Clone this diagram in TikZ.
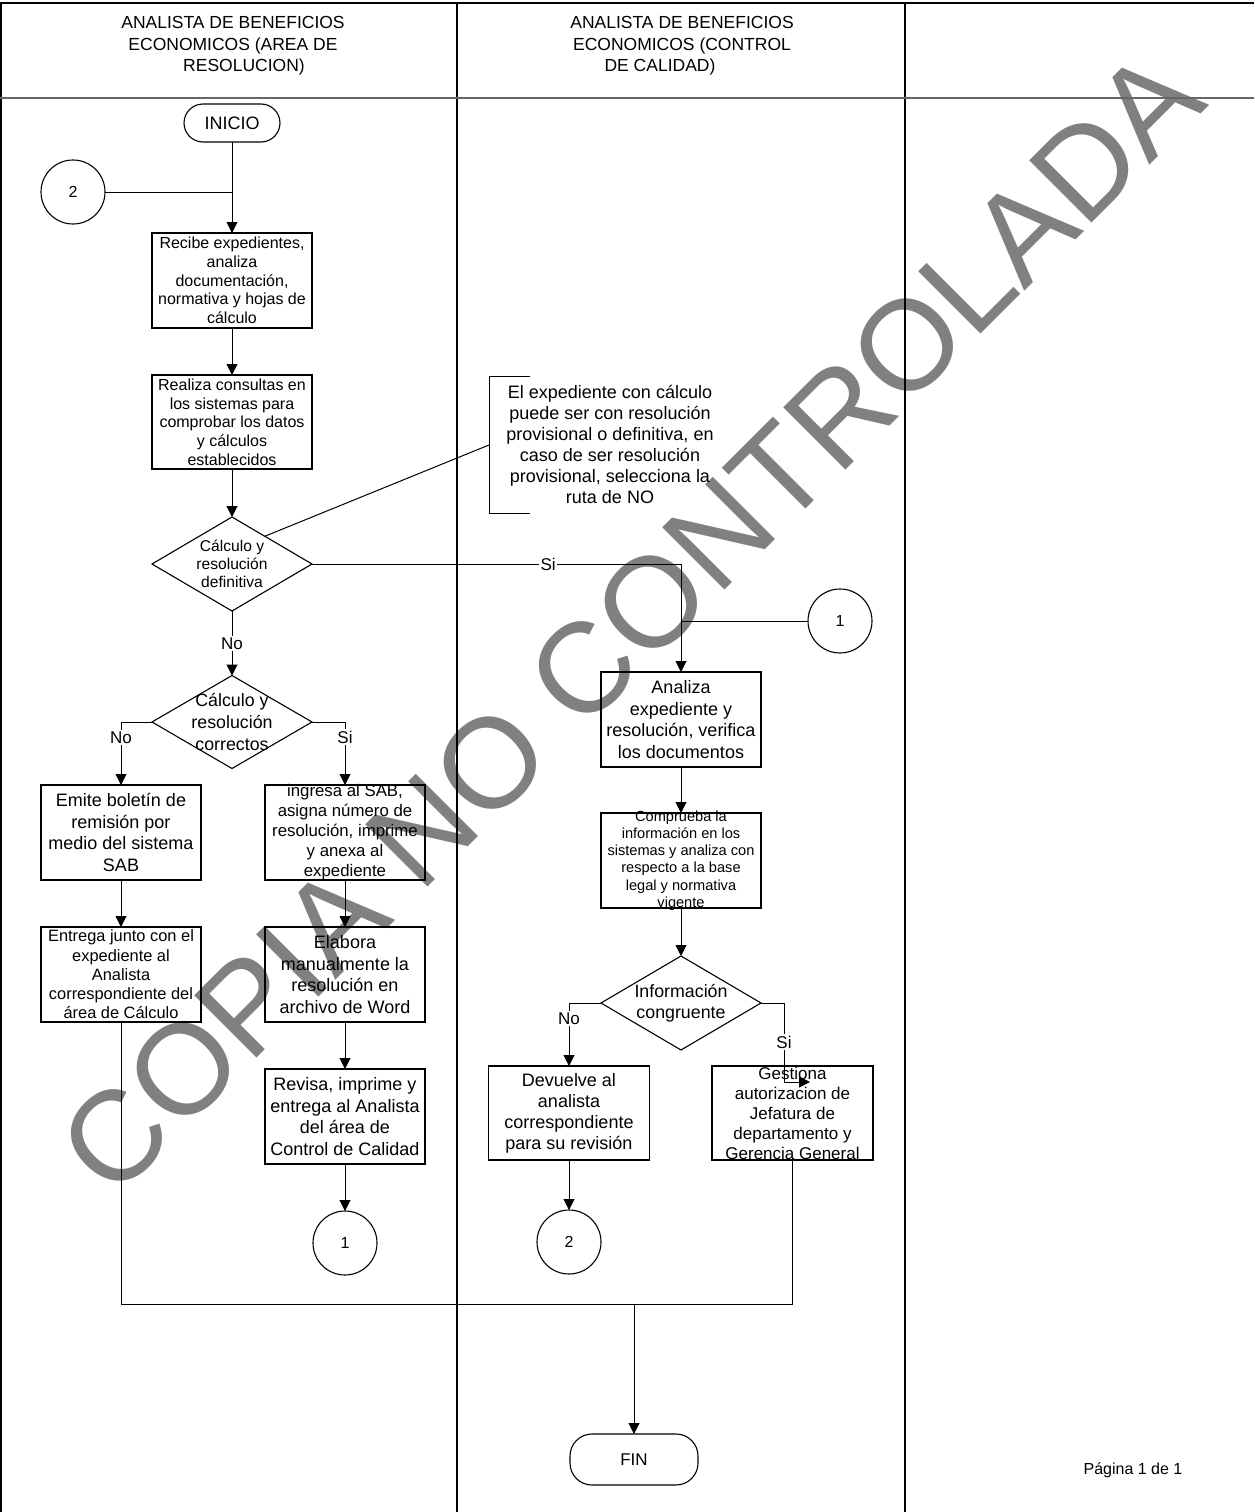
\documentclass[tikz,border=0pt]{standalone}
\usepackage{fontspec}
\setmainfont{Liberation Sans}
\usetikzlibrary{shapes.geometric,arrows.meta,calc}
\newcommand\fsz[2]{\fontsize{#1}{#2}\selectfont}
\begin{document}
\begin{tikzpicture}[x=1pt,y=-1pt,
  every node/.style={inner sep=0pt, outer sep=0pt},
  conn/.style={line width=1pt},
  arr/.style={conn, -{Triangle[width=11pt,length=11pt]}},
  proc/.style={draw, line width=1.1pt, minimum width=160pt, minimum height=95pt},
  ptxt/.style={align=center, text=black},
  dec/.style={draw, line width=1.1pt, diamond, minimum width=160pt, minimum height=94pt},
  circ/.style={draw, line width=1.1pt, circle, minimum size=64pt, font=\fsz{16}{19}},
  term/.style={draw, line width=1.1pt, rounded corners=19pt, font=\fsz{18}{21}},
  lbl/.style={fill=white, inner sep=1.5pt, font=\fsz{17}{20}},
  frame/.style={line width=1.6pt},
  divider/.style={line width=1.2pt},
  hdr/.style={align=center, font=\fsz{17.5}{21.5}},
  wm/.style={text=black!50, font=\fsz{128}{128}}]
\useasboundingbox (0,0) rectangle (1254,1512);

% watermark
\node[wm, rotate=45] (wm) at (631,622) {COPIA NO CONTROLADA};

% frame
\draw[frame] (0,3) -- (1254,3);
\draw[frame] (1,3) -- (1,1512);
\draw[divider] (457,3) -- (457,1512);
\draw[divider] (905,3) -- (905,1512);
\draw[line width=2pt, black!60] (0,98) -- (1254,98);

\node[hdr] (h1) at (233,46) {ANALISTA DE BENEFICIOS\\ECONOMICOS (AREA DE\\\hspace*{22pt}RESOLUCION)};
\node[hdr] (h2) at (682,46) {ANALISTA DE BENEFICIOS\\ECONOMICOS (CONTROL\\DE CALIDAD)\hspace*{44pt}};

% column 1
\node[term, minimum width=96pt, minimum height=38pt] (ini) at (232,123) {INICIO};
\node[circ] (c2a) at (73,192) {2};
\node[proc, label={[ptxt, font=\fsz{16}{18.7}]center:{Recibe expedientes,\\analiza\\documentación,\\normativa y hojas de\\cálculo}}] (r1) at (232,280.5) {};
\node[proc, minimum height=94pt, label={[ptxt, font=\fsz{16}{18.7}]center:{Realiza consultas en\\los sistemas para\\comprobar los datos\\y cálculos\\establecidos}}] (r2) at (232,422) {};
\node[dec, label={[ptxt, font=\fsz{15.6}{18}]center:{Cálculo y\\resolución\\definitiva}}] (d1) at (232,564) {};
\node[dec, minimum height=93pt, label={[ptxt, font=\fsz{17.8}{21.7}]center:{Cálculo y\\resolución\\correctos}}] (d2) at (232,722) {};
\node[proc, label={[ptxt, font=\fsz{18}{21.5}]center:{Emite boletín de\\remisión por\\medio del sistema\\SAB}}] (b3) at (121,832.5) {};
\node[proc, label={[ptxt, font=\fsz{16.8}{20}]center:{ingresa al SAB,\\asigna número de\\resolución, imprime\\y anexa al\\expediente}}] (b4) at (345,832.5) {};
\node[proc, label={[ptxt, font=\fsz{16.4}{19.2}]center:{Entrega junto con el\\expediente al\\Analista\\correspondiente del\\área de Cálculo}}] (b5) at (121,974.5) {};
\node[proc, label={[ptxt, font=\fsz{18}{21.5}]center:{Elabora\\manualmente la\\resolución en\\archivo de Word}}] (b6) at (345,974.5) {};
\node[proc, label={[ptxt, font=\fsz{18}{21.5}]center:{Revisa, imprime y\\entrega al Analista\\del área de\\Control de Calidad}}] (b7) at (345,1116.5) {};
\node[circ] (c1a) at (345,1243) {1};

% column 2
\node[ptxt, font=\fsz{18}{21}] (note) at (610,444) {El expediente con cálculo\\puede ser con resolución\\provisional o definitiva, en\\caso de ser resolución\\provisional, selecciona la\\ruta de NO};
\coordinate (nt) at (530,376);
\coordinate (nb) at (530,513);
\coordinate (nm) at (489,445);
\draw[conn] (nt) -- (489,376) -- (489,513) -- (nb);
\draw[conn] ($(d1.north)!0.41!(d1.east)$) -- (nm);

\node[circ] (c1b) at (840,621) {1};
\node[proc, label={[ptxt, font=\fsz{18}{21.7}]center:{Analiza\\expediente y\\resolución, verifica\\los documentos}}] (b8) at (681,719.5) {};
\node[proc, label={[ptxt, font=\fsz{14.6}{17.3}]center:{Comprueba la\\información en los\\sistemas y analiza con\\respecto a la base\\legal y normativa\\vigente}}] (b9) at (681,860.5) {};
\node[dec, label={[ptxt, font=\fsz{17.8}{21}]center:{Información\\congruente}}] (d3) at (681,1003) {};
\node[proc, minimum width=161pt, minimum height=94pt, label={[ptxt, font=\fsz{18}{21}]center:{Devuelve al\\analista\\correspondiente\\para su revisión}}] (b10) at (569,1113) {};
\node[proc, minimum width=161pt, minimum height=94pt, label={[ptxt, font=\fsz{17}{20}]center:{Gestiona\\autorizacion de\\Jefatura de\\departamento y\\Gerencia General}}] (b11) at (792.5,1113) {};
\node[circ] (c2b) at (569,1242) {2};

\node[term, rounded corners=22pt, minimum width=128pt, minimum height=51pt, font=\fsz{17}{20}] (fin) at (634,1459.5) {FIN};
\node[font=\fsz{16}{19}] (pg) at (1133,1470) {Página 1 de 1};

% connectors
\draw[arr] (ini.south) -- (r1.north);
\draw[conn] (c2a.east) -- (c2a.east -| r1.north);
\draw[arr] (r1.south) -- (r2.north);
\draw[arr] (r2.south) -- (d1.north);
\draw[arr] (d1.south) -- node[lbl] (lno1) {No} (d2.north);
\draw[arr] (d2.west) -| node[lbl, pos=0.625] (lno2) {No} (b3.north);
\draw[arr] (d2.east) -| node[lbl, pos=0.62] (lsi1) {Si} (b4.north);
\draw[arr] (b3.south) -- (b5.north);
\draw[arr] (b4.south) -- (b6.north);
\draw[arr] (b6.south) -- (b7.north);
\draw[arr] (b7.south) -- (c1a.north);

\draw[arr] (d1.east) -| node[lbl, pos=0.32] (lsi0) {Si} (b8.north);
\draw[conn] (c1b.west) -- (c1b.west -| b8.north);
\draw[arr] (b8.south) -- (b9.north);
\draw[arr] (b9.south) -- (d3.north);
\draw[arr] (d3.west) -| node[lbl, pos=0.625] (lno3) {No} (b10.north);
\coordinate (sv) at (784,1082);
\coordinate (sa) at (810,1082);
\draw[arr] (d3.east) -| (sv) -- (sa);
\node[lbl] (lsi2) at (784,1042) {Si};
\draw[arr] (b10.south) -- (c2b.north);

\coordinate (jn) at (634,1304);
\draw[conn] (b5.south) |- (jn) -| (b11.south);
\draw[arr] (jn) -- (fin.north);
\end{tikzpicture}
\end{document}
